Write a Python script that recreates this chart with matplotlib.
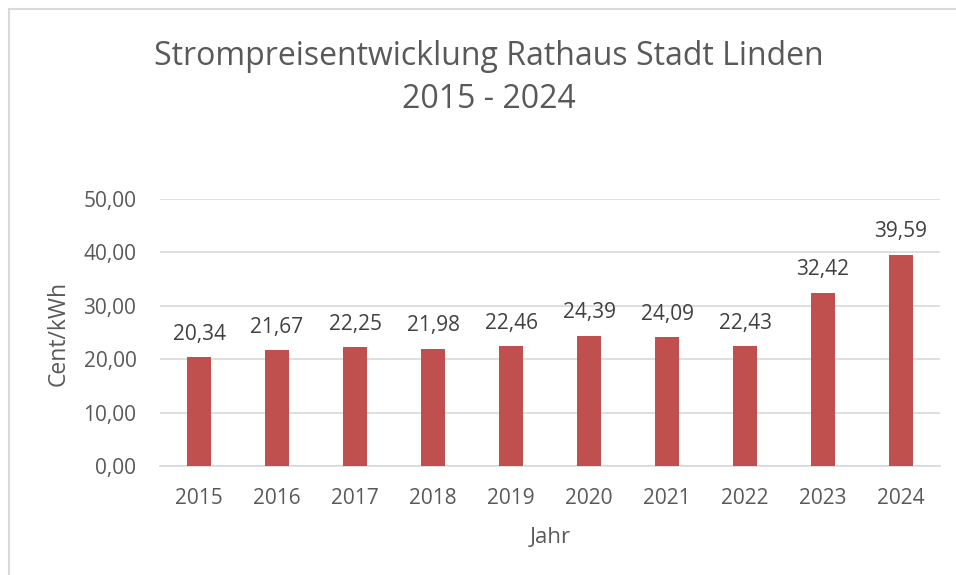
import matplotlib.pyplot as plt
from matplotlib.patches import Rectangle

# Data
years = ["2015", "2016", "2017", "2018", "2019", "2020", "2021", "2022", "2023", "2024"]
prices = [20.34, 21.67, 22.25, 21.98, 22.46, 24.39, 24.09, 22.43, 32.42, 39.59]
yticks = [0, 10, 20, 30, 40, 50]

plt.rcParams["font.family"] = ["Open Sans", "DejaVu Sans"]

fig = plt.figure(figsize=(9.56, 5.75), dpi=100)
ax = fig.add_axes([160 / 956, 109 / 575, 780 / 956, 267 / 575])

x = range(len(years))
bars = ax.bar(x, prices, width=0.315, color="#C0504D", zorder=3)

for xi, v in zip(x, prices):
    ax.annotate(f"{v:.2f}".replace(".", ","), (xi, v), xytext=(0, 9),
                textcoords="offset points", ha="center", va="bottom",
                fontsize=15, color="#404040")

ax.set_xlim(-0.5, len(years) - 0.5)
ax.set_ylim(0, 50)
ax.set_yticks(yticks)
ax.set_yticklabels([f"{t:.2f}".replace(".", ",") for t in yticks])
ax.set_xticks(list(x))
ax.set_xticklabels(years)
ax.tick_params(axis="both", length=0, labelsize=15, labelcolor="#595959")
ax.tick_params(axis="y", pad=17)
ax.tick_params(axis="x", pad=16)

ax.grid(axis="y", color="#D9D9D9", linewidth=1.2, zorder=0)
for s in ["top", "right", "left"]:
    ax.spines[s].set_visible(False)
ax.spines["bottom"].set_color("#D9D9D9")
ax.spines["bottom"].set_linewidth(1.2)

# y axis title placed directly, Excel style
fig.text(59 / 956, 1 - 333 / 575, "Cent/kWh", rotation=90, ha="center", va="center",
         fontsize=16.5, color="#595959")
ax.set_xlabel("Jahr", fontsize=16, color="#595959", labelpad=13)

fig.text(489 / 956, 1 - 78 / 575, "Strompreisentwicklung Rathaus Stadt Linden\n2015 - 2024",
         ha="center", va="center", fontsize=23, color="#595959", linespacing=1.4)

# chart border (only left and top visible in the crop)
fig.add_artist(Rectangle((9 / 956, -0.2), 1.2, 1.2 - 9 / 575, transform=fig.transFigure,
                         fill=False, edgecolor="#D9D9D9", linewidth=1.5))

fig.savefig("out.png", dpi=100, facecolor="white")
